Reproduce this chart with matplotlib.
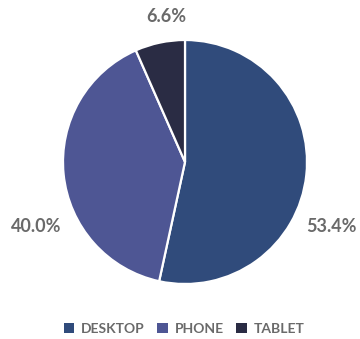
import matplotlib
matplotlib.use("Agg")
import matplotlib.pyplot as plt
from matplotlib.patches import Patch

categories = ["DESKTOP", "PHONE", "TABLET"]
shares = [53.4, 40.0, 6.6]
colors = ["#304b7b", "#4e5694", "#2a2c44"]

plt.rcParams["font.family"] = ["Lato", "DejaVu Sans"]

fig = plt.figure(figsize=(3.6, 3.39), dpi=100)
W, H = 360, 339
cx, cy, r = 185, 162, 122
ax = fig.add_axes([(cx - r) / W, (H - cy - r) / H, 2 * r / W, 2 * r / H])

wedges, _ = ax.pie(
    shares, colors=colors, startangle=90, counterclock=False,
    wedgeprops=dict(edgecolor="white", linewidth=1.6),
)
ax.set_xlim(-1, 1)
ax.set_ylim(-1, 1)
ax.set_aspect("equal")
ax.axis("off")

label_pos = {
    "DESKTOP": (331, 226),
    "PHONE": (36, 226),
    "TABLET": (166, 17),
}
for cat, val in zip(categories, shares):
    px, py = label_pos[cat]
    fig.text(px / W, 1 - py / H, f"{val:.1f}%", ha="center", va="center",
             fontsize=13, color="#6a6a6a", fontweight="bold")

handles = [Patch(facecolor=c, edgecolor="none") for c in colors]
fig.legend(handles, categories, loc="center", bbox_to_anchor=(184 / W, 1 - 329 / H),
           ncol=3, frameon=False, labelcolor="#6a6a6a",
           prop=dict(family=["Lato", "DejaVu Sans"], weight="bold", size=10),
           handlelength=0.75, handleheight=0.75, handletextpad=0.5, columnspacing=0.9)

fig.savefig("out.png", dpi=100, facecolor="white")
